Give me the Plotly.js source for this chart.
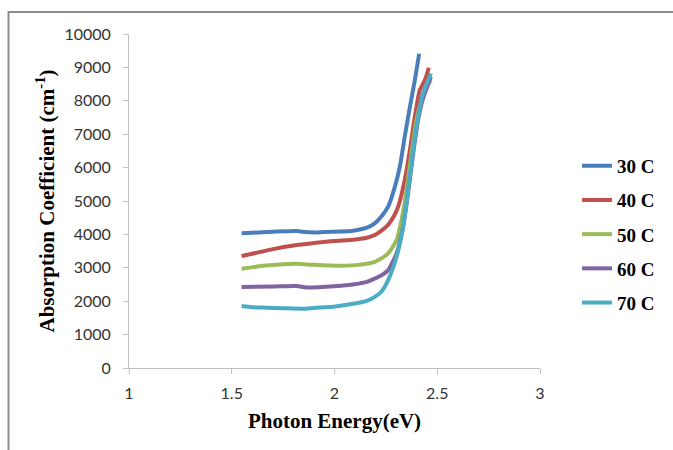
<!DOCTYPE html>
<html>
<head>
<meta charset="utf-8">
<script src="https://cdn.plot.ly/plotly-3.0.1.min.js"></script>
<style>
  html, body { margin: 0; padding: 0; background: #ffffff; }
  #chart { width: 673px; height: 450px; }
</style>
</head>
<body>
<div id="chart"></div>
<script>
// ---- data ----
const seriesNames = ["30 C", "40 C", "50 C", "60 C", "70 C"];

const x30 = [1.548, 1.60, 1.70, 1.816, 1.86, 1.90, 2.00, 2.092, 2.157, 2.196, 2.23, 2.261, 2.294, 2.318, 2.342, 2.367, 2.391, 2.412];
const y30 = [4033, 4050, 4080, 4102, 4070, 4055, 4080, 4110, 4200, 4330, 4550, 4830, 5430, 6030, 6930, 7820, 8620, 9410];

const x40 = [1.548, 1.60, 1.70, 1.816, 1.90, 1.994, 2.10, 2.157, 2.196, 2.23, 2.26, 2.29, 2.31, 2.342, 2.367, 2.391, 2.415, 2.440, 2.459];
const y40 = [3353, 3420, 3560, 3683, 3740, 3800, 3850, 3900, 3980, 4120, 4280, 4560, 4830, 5630, 6530, 7530, 8320, 8620, 8990];

const x50 = [1.548, 1.65, 1.75, 1.816, 1.90, 2.027, 2.10, 2.157, 2.196, 2.23, 2.261, 2.302, 2.326, 2.351, 2.375, 2.399, 2.424, 2.445, 2.469];
const y50 = [2973, 3060, 3110, 3120, 3090, 3060, 3080, 3120, 3180, 3290, 3430, 3830, 4430, 5330, 6430, 7430, 8020, 8350, 8620];

const x60 = [1.548, 1.70, 1.816, 1.865, 2.00, 2.099, 2.157, 2.196, 2.23, 2.261, 2.302, 2.334, 2.358, 2.383, 2.407, 2.43, 2.469];
const y60 = [2425, 2440, 2455, 2410, 2450, 2510, 2580, 2680, 2780, 2930, 3430, 4230, 5230, 6430, 7430, 8050, 8720];

const x70 = [1.548, 1.60, 1.670, 1.75, 1.848, 1.90, 1.994, 2.099, 2.157, 2.196, 2.23, 2.261, 2.302, 2.334, 2.358, 2.383, 2.407, 2.431, 2.469];
const y70 = [1856, 1820, 1805, 1790, 1775, 1800, 1835, 1930, 2010, 2130, 2300, 2630, 3330, 4230, 5330, 6530, 7530, 8220, 8820];

const xTickVals = [1, 1.5, 2, 2.5, 3];
const xTickText = ["1", "1.5", "2", "2.5", "3"];
const yTickVals = [0, 1000, 2000, 3000, 4000, 5000, 6000, 7000, 8000, 9000, 10000];
const yTickText = ["0", "1000", "2000", "3000", "4000", "5000", "6000", "7000", "8000", "9000", "10000"];

const xTitle = "Photon Energy(eV)";
const yTitle = "Absorption Coefficient (cm<sup>-1</sup>)";

// ---- styles ----
const colors = ["#4A7EBB", "#C0504D", "#9BBB59", "#8064A2", "#4BACC6"];
const xs = [x30, x40, x50, x60, x70];
const ys = [y30, y40, y50, y60, y70];

const traces = seriesNames.map((name, i) => ({
  type: "scatter",
  mode: "lines",
  name: name,
  x: xs[i],
  y: ys[i],
  legendgroup: "g" + i,
  line: { color: colors[i], width: 4, shape: "spline", smoothing: 0.6 }
}));

const tickFont = { family: "Lato, 'Open Sans', sans-serif", size: 16, color: "#333333" };
const titleFont = { family: "'Liberation Serif', serif", size: 21, color: "#000000", weight: "bold" };

const layout = {
  width: 673,
  height: 450,
  margin: { l: 129, r: 133, t: 34, b: 82, pad: 0 },
  paper_bgcolor: "#ffffff",
  plot_bgcolor: "#ffffff",
  showlegend: true,
  legend: {
    x: 1.09, xanchor: "left",
    y: 0.40, yanchor: "middle",
    font: { family: "'Liberation Serif', serif", size: 19, color: "#000000", weight: "bold" },
    bgcolor: "rgba(0,0,0,0)",
    tracegroupgap: 6.5,
    traceorder: "grouped"
  },
  xaxis: {
    range: [1, 3],
    tickvals: xTickVals,
    ticktext: xTickText,
    showgrid: false,
    zeroline: false,
    showline: true,
    linecolor: "#bfbfbf",
    linewidth: 1,
    ticks: "outside",
    ticklen: 5,
    tickcolor: "#bfbfbf",
    tickfont: tickFont,
    ticklabelstandoff: 6,
    title: { text: xTitle, font: titleFont, standoff: 12 },
    automargin: false
  },
  yaxis: {
    range: [0, 10000],
    tickvals: yTickVals,
    ticktext: yTickText,
    showgrid: false,
    zeroline: false,
    showline: true,
    linecolor: "#bfbfbf",
    linewidth: 1,
    ticks: "outside",
    ticklen: 5,
    tickcolor: "#bfbfbf",
    tickfont: tickFont,
    ticklabelstandoff: 9,
    title: { text: yTitle, font: titleFont, standoff: 4 },
    automargin: false
  },
  shapes: [{
    type: "rect",
    xref: "paper", yref: "paper",
    x0: -0.2932, x1: 1.6,
    y0: -0.5, y1: 1.0659,
    line: { color: "#8c8c8c", width: 2 },
    fillcolor: "rgba(0,0,0,0)",
    layer: "below"
  }]
};

Plotly.newPlot("chart", traces, layout, { displayModeBar: false, staticPlot: true });
</script>
</body>
</html>
